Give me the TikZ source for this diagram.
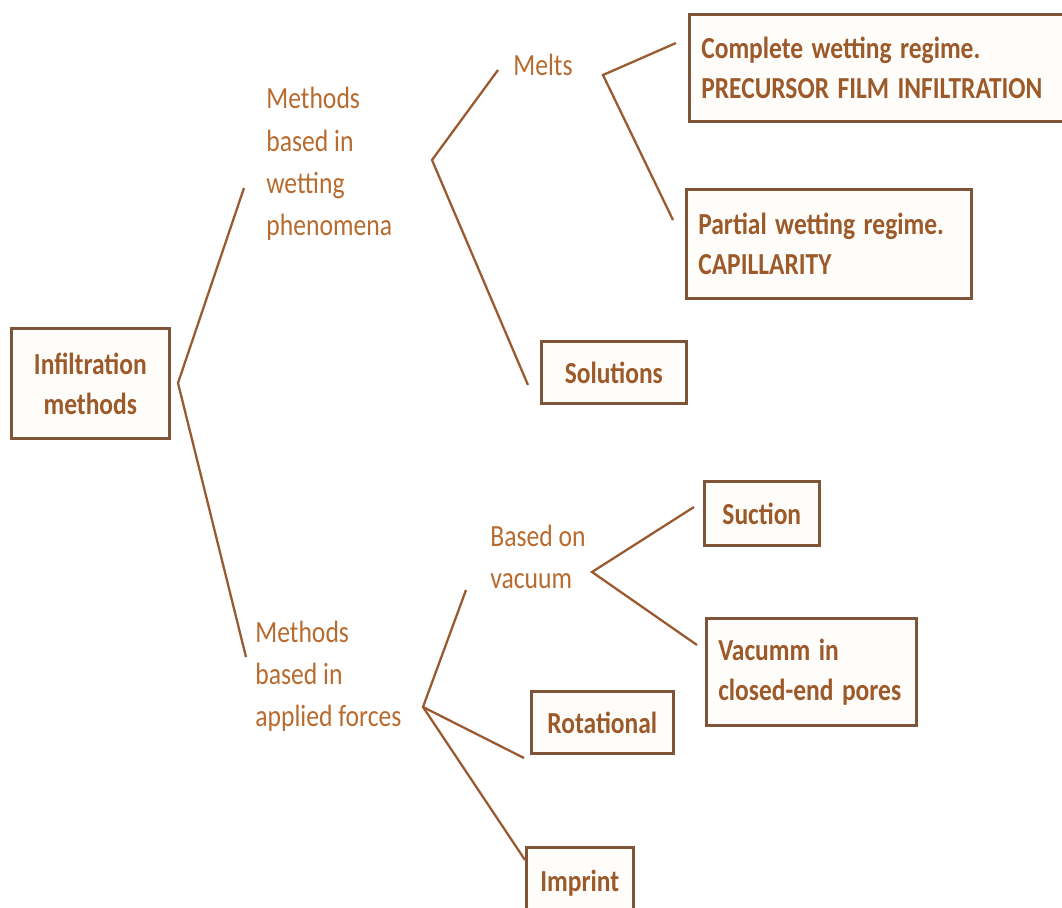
\documentclass[tikz,border=0pt]{standalone}
\usepackage{fontspec}
\setmainfont{Carlito}
\usepackage{tikz}
\definecolor{brtext}{HTML}{B86B2E}
\definecolor{brbold}{HTML}{9C5A2A}
\definecolor{brline}{HTML}{9A5A30}
\definecolor{brbox}{HTML}{7E5538}
\definecolor{brfill}{HTML}{FFFDFA}

\begin{document}
\begin{tikzpicture}[x=0.02cm, y=-0.02cm,
  box/.style={draw=brbox, line width=1.5pt, fill=brfill, text=brbold, yscale=1.2,
    font=\fontsize{14.5}{19}\selectfont\bfseries, inner sep=0pt, anchor=north west},
  plain/.style={text=brtext, yscale=1.2, align=left, inner sep=0pt,
    font=\fontsize{14.6}{20}\selectfont},
  branch/.style={brline, line width=1.3pt}]

\path[use as bounding box, clip] (0,0) rectangle (1062,907);

\node[box, minimum width=3.16cm, minimum height=1.833cm, align=center] (root) at (10,327)
  {Infiltration\\methods};

\node[plain, anchor=west] (wet) at (266,164) {Methods\\based in\\wetting\\phenomena};
\node[plain, anchor=west] (forces) at (255,676) {Methods\\based in\\applied forces};
\node[plain] (melts) at (543,65) {Melts};
\node[plain, anchor=west] (vac) at (490,557) {Based on\\vacuum};

\node[box, minimum width=7.84cm, minimum height=1.783cm, text width=7.36cm, inner xsep=0.24cm,
  align=left] (compl) at (688,13) {Complete wetting regime.\\PRECURSOR FILM INFILTRATION};
\node[box, minimum width=5.7cm, minimum height=1.817cm, text width=5.22cm, inner xsep=0.24cm,
  align=left] (part) at (685,188) {Partial wetting regime.\\CAPILLARITY};
\node[box, minimum width=2.9cm, minimum height=1.033cm] (sol) at (540,340) {Solutions};
\node[box, minimum width=2.3cm, minimum height=1.067cm] (suc) at (703,480) {Suction};
\node[box, minimum width=4.2cm, minimum height=1.783cm, text width=3.72cm, inner xsep=0.24cm,
  align=left] (vcm) at (705,617) {Vacumm in\\closed-end pores};
\node[box, minimum width=2.84cm, minimum height=1.033cm] (rot) at (530,690) {Rotational};
\node[box, minimum width=2.14cm, minimum height=1.2cm] (imp) at (525,846) {Imprint};

% fork points and line ends
\coordinate (r0) at (178,383);
\coordinate (r1) at (244,188);
\coordinate (r2) at (246,657);
\coordinate (w0) at (432,160);
\coordinate (w1) at (498,70);
\coordinate (w2) at (528,385);
\coordinate (m0) at (603,75);
\coordinate (m1) at (676,43);
\coordinate (m2) at (673,220);
\coordinate (a0) at (423,707);
\coordinate (a1) at (466,590);
\coordinate (a2) at (524,758);
\coordinate (a3) at (525,860);
\coordinate (v0) at (592,572);
\coordinate (v1) at (694,507);
\coordinate (v2) at (697,645);

\draw[branch] (r1) -- (r0) -- (r2);
\draw[branch] (w1) -- (w0) -- (w2);
\draw[branch] (m1) -- (m0) -- (m2);
\draw[branch] (a1) -- (a0) -- (a3);
\draw[branch] (a0) -- (a2);
\draw[branch] (v1) -- (v0) -- (v2);

\end{tikzpicture}
\end{document}
